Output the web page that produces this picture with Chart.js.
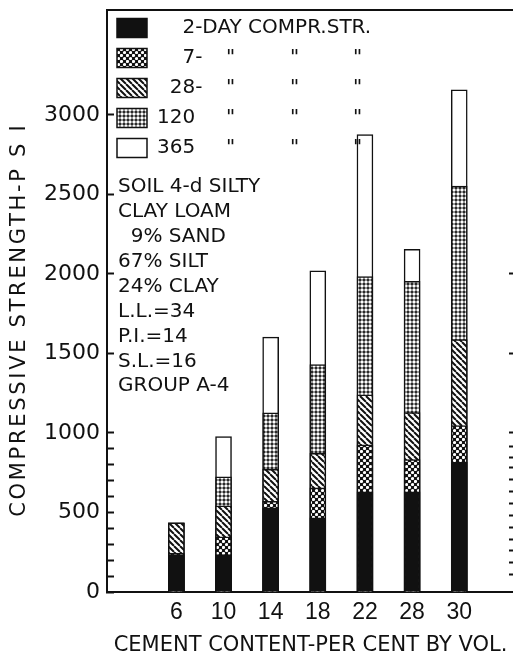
<!DOCTYPE html>
<html><head><meta charset="utf-8">
<script src="https://cdn.jsdelivr.net/npm/chart.js@4/dist/chart.umd.min.js"></script>
<style>html,body{margin:0;padding:0;background:#fff;overflow:hidden;width:513px;height:658px}canvas{display:block}</style>
</head><body><canvas id="c" width="518" height="658"></canvas>
<script>
// ---- data ----
const categories = ['6', '10', '14', '18', '22', '28', '30'];
const seriesNames = ['2-DAY COMPR.STR.', '7-', '28-', '120', '365'];
const day2   = [235, 235, 530, 466, 630, 630, 815];
const day7   = [245, 347, 570, 655, 925, 832, 1046];
const day28  = [435, 542, 772, 872, 1240, 1128, 1588];
const day120 = [435, 725, 1127, 1430, 1983, 1953, 2552];
const day365 = [435, 977, 1603, 2020, 2876, 2155, 3158];
const yTickValues = [0, 100, 200, 300, 400, 500, 600, 700, 800, 900, 1000, 1500, 2000, 2500, 3000];
const rightTickValues = [110, 185, 260, 330, 405, 480, 555, 630, 705, 780, 845, 915, 1000, 1500, 2000];
const soilNotes = ['SOIL 4-d SILTY', 'CLAY LOAM', '  9% SAND', '67% SILT', '24% CLAY', 'L.L.=34', 'P.I.=14', 'S.L.=16', 'GROUP A-4'];
const dittoMark = '"';
const xTitle = 'CEMENT CONTENT-PER CENT BY VOL.';
const yTitle = 'COMPRESSIVE STRENGTH-P S I';

// ---- styles ----
const INK = '#111';
const FONT = 'DejaVu Sans';
const legendIndent = ['    ', '    ', '  ', '', ''];
const yTitleTail = '    ';
const ctxMain = document.getElementById('c').getContext('2d');
function mkPattern(size, fn) {
  const c = document.createElement('canvas');
  c.width = c.height = size;
  const g = c.getContext('2d');
  fn(g, size);
  return ctxMain.createPattern(c, 'repeat');
}
const pat7 = mkPattern(6, (g, s) => {
  g.fillStyle = INK; g.fillRect(0, 0, s, s);
  g.fillStyle = '#fff';
  [[1.5, 1.5], [4.5, 4.5]].forEach(([x, y]) => { g.beginPath(); g.arc(x, y, 1.6, 0, Math.PI * 2); g.fill(); });
});
const pat28 = mkPattern(6, (g, s) => {
  g.fillStyle = '#fff'; g.fillRect(0, 0, s, s);
  g.strokeStyle = INK; g.lineWidth = 2;
  g.beginPath();
  for (let k = -1; k <= 1; k++) { g.moveTo(k * s, 0); g.lineTo(k * s + s, s); }
  g.stroke();
});
const pat120 = mkPattern(4, (g, s) => {
  g.fillStyle = INK; g.fillRect(0, 0, s, s);
  g.fillStyle = '#fff';
  g.beginPath(); g.arc(2, 2, 1.75, 0, Math.PI * 2); g.fill();
});

function ds(i, arr, bg) {
  return {
    label: seriesNames[i],
    data: arr.map((v, k) => ({ x: k, y: v })),
    backgroundColor: bg,
    borderColor: INK,
    borderWidth: 1.5,
    grouped: false,
    barThickness: 16,
    order: i
  };
}
function noPad(s) { s.paddingTop = 0; s.paddingBottom = 0; s.paddingLeft = 0; s.paddingRight = 0; }

const spacingPlugin = {
  id: 'spacing',
  afterDatasetsDraw(chart) { chart.ctx.letterSpacing = '2.7px'; }
};
const notesPlugin = {
  id: 'notes',
  afterDraw(chart) {
    const { ctx, chartArea: a } = chart;
    ctx.letterSpacing = '0px';
    ctx.save();
    ctx.fillStyle = INK;
    ctx.font = '20px "' + FONT + '"';
    ctx.textBaseline = 'middle';
    ctx.textAlign = 'left';
    soilNotes.forEach((t, i) => ctx.fillText(t, a.left + 11, a.top + 177 + i * 24.9));
    const hb = chart.legend && chart.legend.legendHitBoxes;
    if (hb) {
      for (let r = 1; r < hb.length; r++) {
        const y = hb[r].top + hb[r].height / 2;
        [119, 183, 246].forEach(dx => ctx.fillText(dittoMark, a.left + dx, y));
      }
    }
    ctx.restore();
  }
};

new Chart(ctxMain, {
  type: 'bar',
  data: {
    datasets: [
      ds(0, day2, INK),
      ds(1, day7, pat7),
      ds(2, day28, pat28),
      ds(3, day120, pat120),
      ds(4, day365, '#fff')
    ]
  },
  plugins: [spacingPlugin, notesPlugin],
  options: {
    responsive: false,
    animation: false,
    devicePixelRatio: 1,
    layout: { padding: { left: 0, right: 4, top: 10, bottom: 0 } },
    plugins: {
      tooltip: { enabled: false },
      legend: {
        position: 'chartArea',
        align: 'start',
        title: { display: true, text: '', font: { size: 8, lineHeight: 1 }, padding: 0 },
        labels: {
          boxWidth: 30, boxHeight: 19, padding: 10, color: INK,
          font: { family: FONT, size: 20 },
          generateLabels(chart) {
            const items = Chart.defaults.plugins.legend.labels.generateLabels(chart);
            items.forEach(it => { it.text = legendIndent[it.datasetIndex] + it.text; it.lineWidth = 1.5; it.strokeStyle = INK; });
            return items;
          }
        }
      }
    },
    scales: {
      x: {
        type: 'linear', position: 'bottom', min: -0.855, max: 6.545,
        afterBuildTicks(s) { s.ticks = categories.map((_, i) => ({ value: i })); },
        afterFit(s) { s.height = 66; noPad(s); },
        grid: { display: false, drawTicks: false },
        border: { display: true, color: INK, width: 2 },
        ticks: { autoSkip: false, maxRotation: 0, padding: 7, color: INK,
          font: { family: 'Liberation Sans', size: 23 },
          callback: v => categories[v] ?? '' },
        title: { display: true, text: xTitle, color: INK,
          font: { family: FONT, size: 21 }, padding: { top: 0, bottom: 0 } }
      },
      xTop: {
        type: 'linear', position: 'top', min: -0.855, max: 6.545,
        afterFit(s) { s.height = 0; noPad(s); },
        grid: { display: false, drawTicks: false },
        border: { display: true, color: INK, width: 2 },
        ticks: { display: false }
      },
      y: {
        type: 'linear', position: 'left', min: 0, max: 3660,
        afterBuildTicks(s) { s.ticks = yTickValues.map(v => ({ value: v })); },
        afterFit(s) { s.width = 72; noPad(s); },
        grid: { drawOnChartArea: false, tickLength: -7, tickWidth: 2, tickColor: INK },
        border: { color: INK, width: 2 },
        ticks: { autoSkip: false, padding: 14, color: INK,
          font: { family: FONT, size: 22 },
          callback: v => (v % 500 === 0 ? String(v) : '') }
      },
      yTitle: {
        type: 'linear', position: 'left', weight: 1, min: 0, max: 3660,
        afterFit(s) { s.width = 35; noPad(s); },
        grid: { display: false, drawTicks: false, z: 1 },
        border: { display: false },
        ticks: { display: false },
        title: { display: true, text: yTitle + yTitleTail, color: INK,
          font: { family: FONT, size: 21 }, padding: { top: 7, bottom: 0 } }
      },
      yRight: {
        type: 'linear', position: 'right', min: 0, max: 3660,
        afterBuildTicks(s) { s.ticks = rightTickValues.map(v => ({ value: v })); },
        afterFit(s) { s.width = 0; noPad(s); },
        grid: { drawOnChartArea: false, tickLength: -5, tickWidth: 2, tickColor: INK },
        border: { display: false },
        ticks: { display: false }
      }
    }
  }
});
</script>
</body></html>
